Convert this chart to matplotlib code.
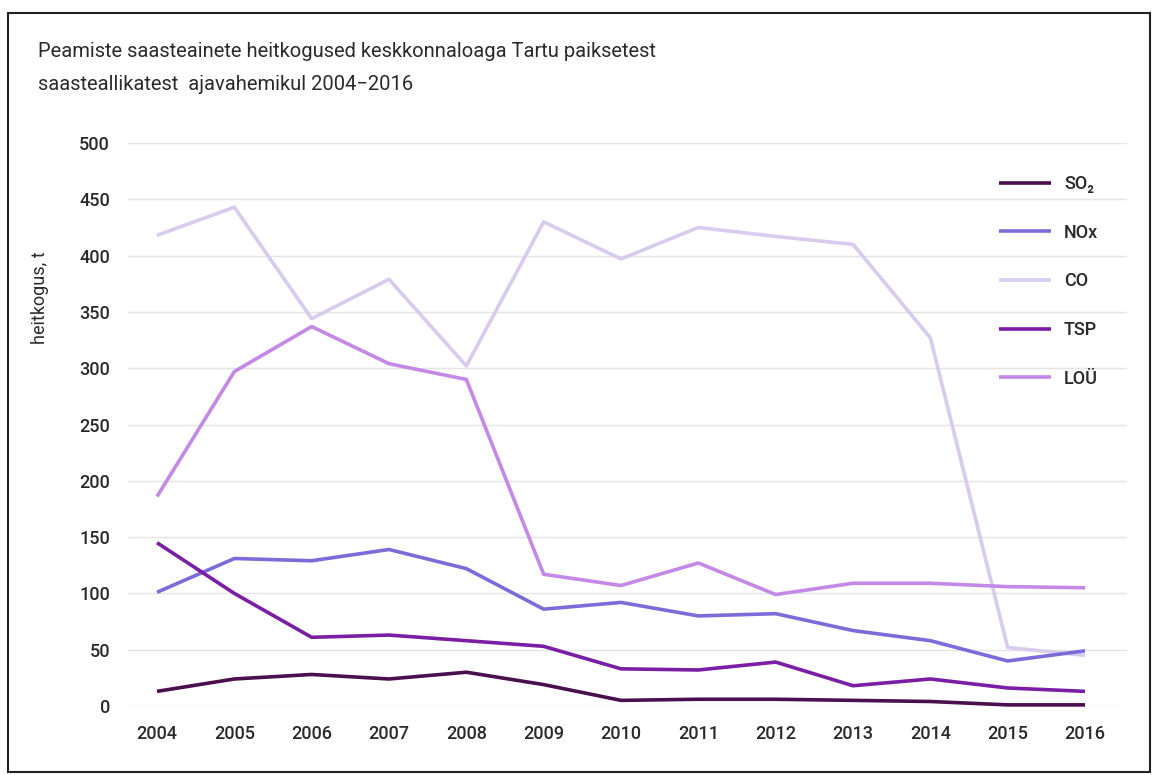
import matplotlib
matplotlib.use("Agg")
import matplotlib.pyplot as plt
from matplotlib.patches import Rectangle

plt.rcParams['font.family'] = ['Roboto', 'DejaVu Sans']

years = [2004, 2005, 2006, 2007, 2008, 2009, 2010, 2011, 2012, 2013, 2014, 2015, 2016]
so2 = [13, 24, 28, 24, 30, 19, 5, 6, 6, 5, 4, 1, 1]
nox = [101, 131, 129, 139, 122, 86, 92, 80, 82, 67, 58, 40, 49]
co = [418, 443, 344, 379, 302, 430, 397, 425, 417, 410, 327, 52, 45]
tsp = [145, 100, 61, 63, 58, 53, 33, 32, 39, 18, 24, 16, 13]
lou = [186, 297, 337, 304, 290, 117, 107, 127, 99, 109, 109, 106, 105]

series_names = ["SO₂", "NOx", "CO", "TSP", "LOÜ"]
series_vals = [so2, nox, co, tsp, lou]
colors = ["#4a0f4e", "#7b6cd9", "#d8cbee", "#7a1ea6", "#c489e6"]

title = "Peamiste saasteainete heitkogused keskkonnaloaga Tartu paiksetest\nsaasteallikatest  ajavahemikul 2004\u22122016"
ylabel = "heitkogus, t"
yticks = [0, 50, 100, 150, 200, 250, 300, 350, 400, 450, 500]

W, H = 1155, 775
fig = plt.figure(figsize=(W / 100, H / 100), dpi=100)
fig.patch.set_facecolor("white")

# outer frame
fig.patches.append(Rectangle((8 / W, 1 - 772 / H), (1150 - 8) / W, (772 - 13) / H,
                             transform=fig.transFigure, fill=False,
                             edgecolor="#222222", linewidth=1.5))

ax = fig.add_axes([128 / W, 1 - 706 / H, (1127 - 128) / W, (706 - 143) / H])
ax.set_facecolor("none")

order = [2, 4, 1, 3, 0]
lines = {}
for i in order:
    ln, = ax.plot(years, series_vals[i], color=colors[i], linewidth=2.6,
                  solid_joinstyle="round", solid_capstyle="butt", clip_on=False,
                  label=series_names[i], zorder=3)
    lines[i] = ln

ax.set_ylim(0, 500)
step = (1085 - 157) / 12
ax.set_xlim(2004 - (157 - 128) / step, 2016 + (1127 - 1085) / step)
ax.set_yticks(yticks)
ax.set_xticks(years)
ax.set_xticklabels([str(y) for y in years])
ax.grid(axis="y", color="#e4e4e4", linewidth=1.0, zorder=0)
ax.grid(axis="x", visible=False)
for s in ax.spines.values():
    s.set_visible(False)
ax.tick_params(axis="both", length=0, labelsize=13, labelcolor="#2a2a2a")
for lab in ax.get_xticklabels() + ax.get_yticklabels():
    lab.set_fontweight("medium")
ax.tick_params(axis="y", pad=13)
ax.tick_params(axis="x", pad=14)

fig.text(40 / W, 1 - 298 / H, ylabel, rotation=90, ha="center", va="center",
         fontsize=13, color="#2a2a2a")

fig.text(38 / W, 1 - 42 / H, title, ha="left", va="top", fontsize=14.5,
         color="#2a2a2a", linespacing=1.95)

handles = [lines[i] for i in range(5)]
leg = ax.legend(handles, series_names, loc="upper left",
                bbox_to_anchor=(990 / W, 1 - 166 / H), bbox_transform=fig.transFigure,
                frameon=False, fontsize=13, handlelength=2.9, handletextpad=0.7,
                labelspacing=1.70, borderpad=0)
for t in leg.get_texts():
    t.set_color("#2a2a2a")
    t.set_fontweight("medium")

fig.savefig("out.png", dpi=100, facecolor="white")
